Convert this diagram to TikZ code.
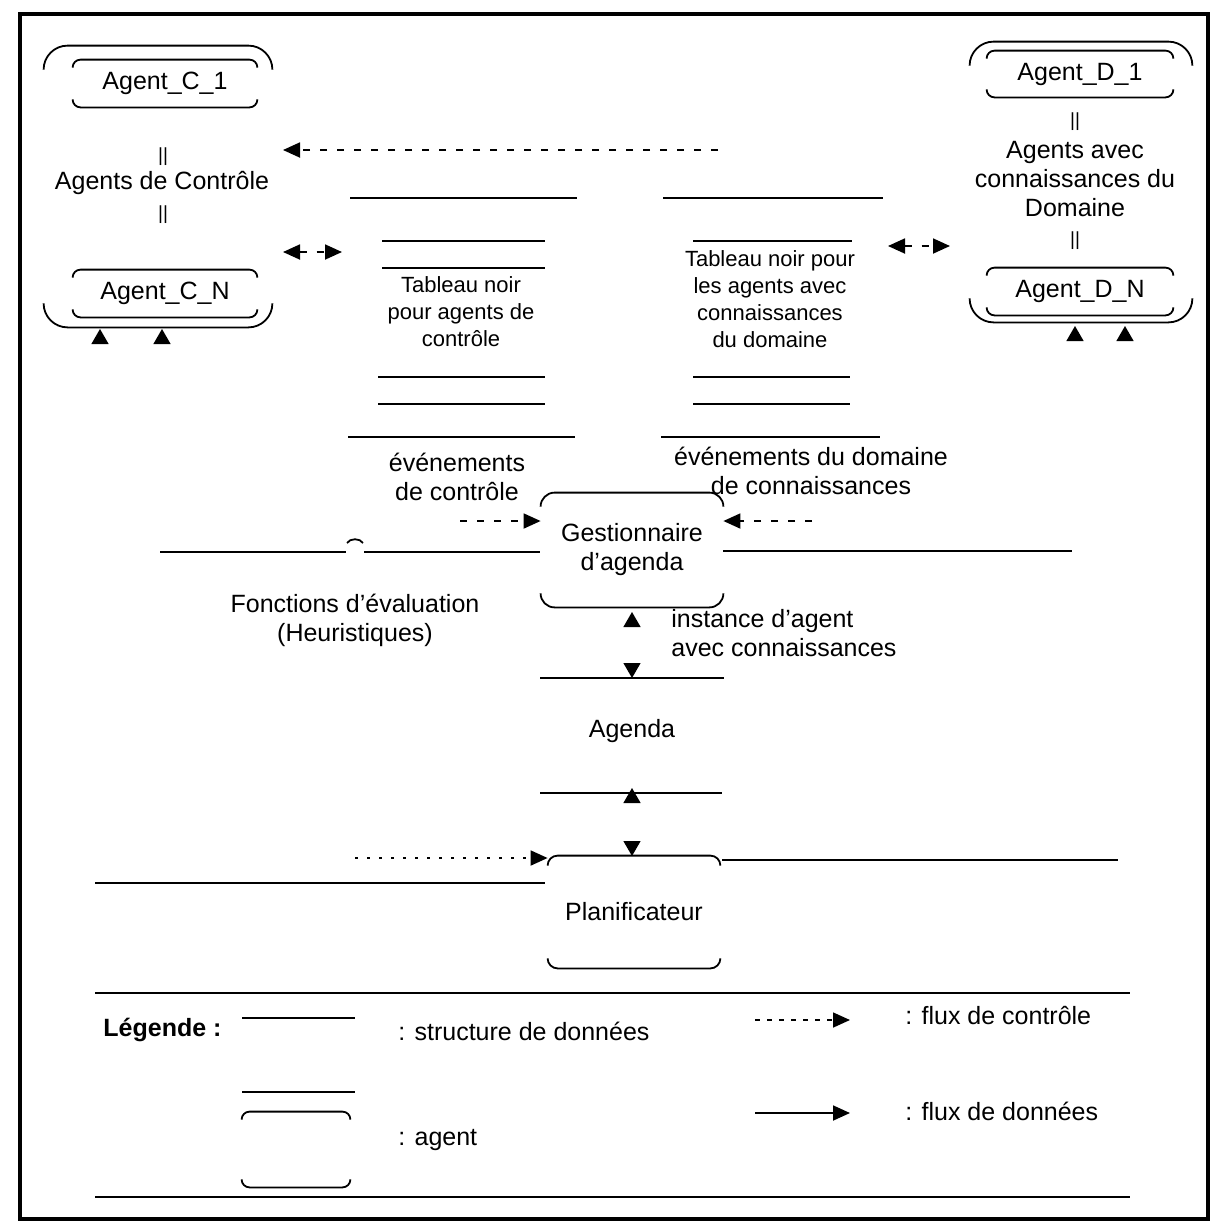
\documentclass[tikz,border=0pt]{standalone}
\usepackage{fontspec}
\setmainfont{Liberation Sans}
\usetikzlibrary{arrows.meta,shapes.geometric}

% top and bottom rules of an agent, with rounded ends and no sides
\newcommand\agentframe[2]{%
  \draw[ln,rounded corners=#2] ([yshift=-#2]#1.north west) -- (#1.north west) -- (#1.north east) -- ([yshift=-#2]#1.north east);
  \draw[ln,rounded corners=#2] ([yshift=#2]#1.south west) -- (#1.south west) -- (#1.south east) -- ([yshift=#2]#1.south east);}

\tikzset{
  ln/.style={line width=0.9pt},
  frameln/.style={line width=1.6pt},
  txt/.style={font=\fontsize{12.5}{14.5}\selectfont, align=center, inner sep=0pt},
  smalltxt/.style={font=\fontsize{11}{13.5}\selectfont, align=center, inner sep=0pt},
  bars/.style={font=\fontsize{9.5}{11}\selectfont, inner sep=0pt},
  agentbox/.style={inner sep=0pt, font=\fontsize{12.5}{14.5}\selectfont, align=center},
  ctl/.style={line width=0.9pt, dash pattern=on 3.5pt off 5pt},
  headR/.style={-{Triangle[length=8.5pt,width=7.5pt]}},
  headLR/.style={{Triangle[length=8.5pt,width=7.5pt]}-{Triangle[length=8.5pt,width=7.5pt]}},
  triup/.style={regular polygon, regular polygon sides=3, fill, inner sep=0pt, minimum size=10pt},
  tridown/.style={triup, shape border rotate=180},
}

\begin{document}
\begin{tikzpicture}[x=0.5pt,y=-0.5pt]
\useasboundingbox (0,0) rectangle (1212,1223);
\fill[white] (0,0) rectangle (1212,1223);

% outer frame
\draw[frameln] (20,14) rectangle (1208,1219);

% ---------- control agents ----------
\node[agentbox, minimum width=114pt, minimum height=140.5pt] (ctrlgrp) at (158,186.5) {};
\agentframe{ctrlgrp}{12pt}
\node[agentbox, minimum width=92pt, minimum height=23.5pt] (agC1) at (165,83.5) {Agent\_C\_1};
\agentframe{agC1}{4pt}
\node[agentbox, minimum width=92pt, minimum height=23.5pt] (agCN) at (165,293.5) {Agent\_C\_N};
\agentframe{agCN}{4pt}
\node[bars] (barC1) at (163,157) {\textbar\textbar};
\node[txt] (ctrlname) at (162,183) {Agents de Contrôle};
\node[bars] (barC2) at (163,215) {\textbar\textbar};

% ---------- domain agents ----------
\node[agentbox, minimum width=111pt, minimum height=140pt] (domgrp) at (1081,182) {};
\agentframe{domgrp}{12pt}
\node[agentbox, minimum width=93pt, minimum height=23pt] (agD1) at (1080,74) {Agent\_D\_1};
\agentframe{agD1}{4pt}
\node[agentbox, minimum width=93pt, minimum height=23.5pt] (agDN) at (1080,291.5) {Agent\_D\_N};
\agentframe{agDN}{4pt}
\node[bars] (barD1) at (1075,122) {\textbar\textbar};
\node[txt] (domname) at (1075,179) {Agents avec\\connaissances du\\Domaine};
\node[bars] (barD2) at (1075,241) {\textbar\textbar};

% ---------- blackboards ----------
\draw[ln] (350,198) -- (577,198);
\draw[ln] (382,241) -- (545,241);
\draw[ln] (382,268) -- (545,268);
\node[smalltxt] (tabC) at (461,312) {Tableau noir\\pour agents de\\contrôle};
\draw[ln] (378,377) -- (545,377);
\draw[ln] (378,404) -- (545,404);
\draw[ln] (348,437) -- (575,437);

\draw[ln] (663,198) -- (883,198);
\draw[ln] (693,241) -- (852,241);
\node[smalltxt] (tabD) at (770,299) {Tableau noir pour\\les agents avec\\connaissances\\du domaine};
\draw[ln] (693,377) -- (850,377);
\draw[ln] (693,404) -- (850,404);
\draw[ln] (661,437) -- (880,437);

% control flows between agents and blackboards
\coordinate (cfS) at (718,150);
\coordinate (cfE) at (283,150);
\draw[ctl,headR] (cfS) -- (cfE);
\coordinate (bcL) at (283,252);
\coordinate (bcR) at (342,252);
\draw[ctl,headLR] (bcL) -- (bcR);
\coordinate (bdL) at (888,246);
\coordinate (bdR) at (950,246);
\draw[ctl,headLR] (bdL) -- (bdR);

% ---------- agenda manager ----------
\node[txt] (evC) at (457,477) {événements\\de contrôle};
\node[txt] (evD) at (811,471) {événements du domaine\\de connaissances};
\node[agentbox, minimum width=91pt, minimum height=57pt] (gest) at (632,550) {Gestionnaire\\d'agenda};
\agentframe{gest}{7pt}
\coordinate (evCs) at (460,521);
\coordinate (evDs) at (812,521);
\draw[ctl,headR] (evCs) -- (gest.west |- evCs);
\draw[ctl,headR] (evDs) -- (gest.east |- evDs);

% evaluation functions store, with a small hop
\draw[ln] (160,552) -- (346,552);
\draw[ln] (347,543) .. controls (350,538) and (360,538) .. (363,543);
\draw[ln] (364,552) -- (540,552);
\draw[ln] (723,551) -- (1072,551);
\node[txt] (fonc) at (355,620) {Fonctions d'évaluation\\(Heuristiques)};
\node[txt, align=left, anchor=west] (inst) at (671,633) {instance d'agent\\avec connaissances};

% ---------- agenda ----------
\draw[ln] (540,678) -- (724,678);
\node[txt] (agenda) at (632,731) {Agenda};
\draw[ln] (540,793) -- (722,793);

\node[triup] (tg) at (632,622) {};
\node[tridown] (ta) at (632,668) {};
\node[triup] (tb) at (632,798) {};
\node[tridown] (tp) at (632,846) {};

% ---------- scheduler ----------
\node[agentbox, minimum width=86pt, minimum height=56pt] (plan) at (634,912) {Planificateur};
\agentframe{plan}{5pt}
\coordinate (plS) at (355,858);
\draw[line width=0.9pt, dash pattern=on 1.5pt off 4.5pt, headR] (plS) -- (plan.north west |- plS);
\draw[ln] (95,883) -- (545,883);
\draw[ln] (722,860) -- (1118,860);

% data-flow tips under agent groups
\node[triup] (tc1) at (100,339) {};
\node[triup] (tc2) at (162,339) {};
\node[triup] (td1) at (1075,336) {};
\node[triup] (td2) at (1125,336) {};

% ---------- legend ----------
\draw[ln] (95,993) -- (1130,993);
\draw[ln] (95,1197) -- (1130,1197);
\node[txt, anchor=west, font=\fontsize{12.5}{14.5}\selectfont\bfseries] (leg) at (103,1030) {Légende :};
\draw[ln] (242,1018) -- (355,1018);
\node[txt, anchor=west] (legS) at (398,1031) {: structure de données};
\draw[ln] (242,1092) -- (355,1092);
\node[agentbox, minimum width=54pt, minimum height=37.5pt] (legA) at (296,1149.5) {};
\agentframe{legA}{4pt}
\node[txt, anchor=west] (legAt) at (398,1140) {: agent};
\coordinate (lcS) at (755,1020);
\coordinate (lcE) at (850,1020);
\draw[line width=0.8pt, dash pattern=on 2.5pt off 3.5pt, headR] (lcS) -- (lcE);
\node[txt, anchor=west] (legC) at (905,1016) {: flux de contrôle};
\coordinate (ldS) at (755,1113);
\coordinate (ldE) at (850,1113);
\draw[ln, headR] (ldS) -- (ldE);
\node[txt, anchor=west] (legD) at (905,1111) {: flux de données};
\end{tikzpicture}
\end{document}
